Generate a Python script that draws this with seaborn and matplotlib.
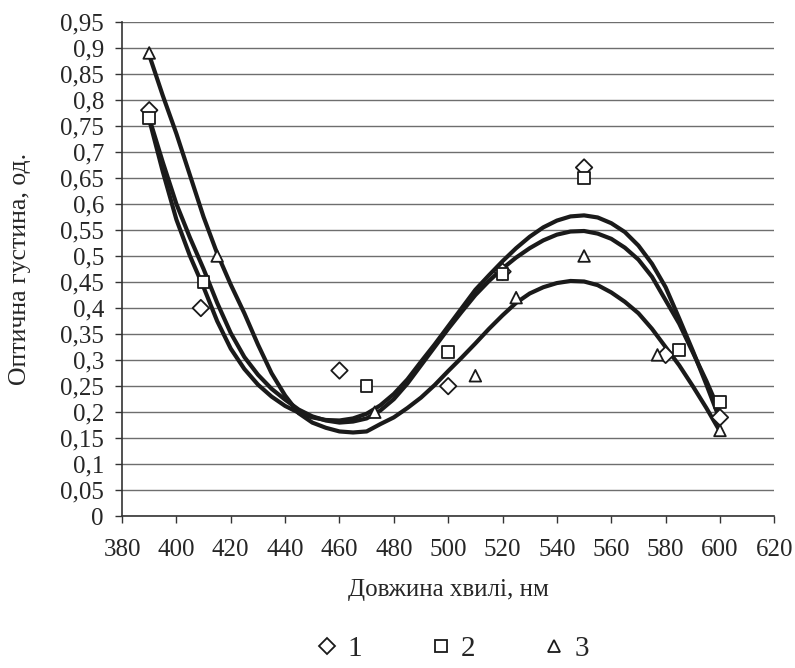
import pandas as pd
import seaborn as sns
import matplotlib.pyplot as plt

WL_1 = [390, 409, 460, 500, 520, 550, 580, 600]
OD_1 = [0.78, 0.40, 0.28, 0.25, 0.47, 0.67, 0.31, 0.19]
WL_2 = [390, 410, 470, 500, 520, 550, 585, 600]
OD_2 = [0.765, 0.45, 0.25, 0.315, 0.465, 0.65, 0.32, 0.22]
WL_3 = [390, 415, 473, 510, 525, 550, 577, 600]
OD_3 = [0.89, 0.50, 0.20, 0.27, 0.42, 0.50, 0.31, 0.165]

# trend curves as drawn in the reference (read every 5 nm)
TREND_WL = [390, 395, 400, 405, 410, 415, 420, 425, 430, 435, 440, 445, 450,
            455, 460, 465, 470, 475, 480, 485, 490, 495, 500, 505, 510, 515,
            520, 525, 530, 535, 540, 545, 550, 555, 560, 565, 570, 575, 580,
            585, 590, 595, 600]
TREND_1 = [0.762, 0.662, 0.57, 0.5, 0.44, 0.375, 0.322, 0.283, 0.253, 0.23,
           0.212, 0.199, 0.19, 0.185, 0.184, 0.188, 0.197, 0.213, 0.235, 0.263,
           0.297, 0.33, 0.365, 0.4, 0.435, 0.463, 0.49, 0.515, 0.537, 0.555,
           0.568, 0.576, 0.578, 0.574, 0.563, 0.546, 0.52, 0.485, 0.44, 0.38,
           0.318, 0.253, 0.185]
TREND_2 = [0.765, 0.68, 0.6, 0.535, 0.475, 0.41, 0.352, 0.306, 0.272, 0.245,
           0.224, 0.205, 0.192, 0.184, 0.18, 0.182, 0.188, 0.203, 0.225, 0.255,
           0.29, 0.325, 0.36, 0.393, 0.425, 0.452, 0.476, 0.497, 0.515, 0.53,
           0.541, 0.547, 0.548, 0.543, 0.533, 0.516, 0.493, 0.46, 0.415, 0.37,
           0.315, 0.26, 0.2]
TREND_3 = [0.886, 0.808, 0.735, 0.655, 0.575, 0.505, 0.445, 0.39, 0.33, 0.275,
           0.232, 0.198, 0.18, 0.17, 0.163, 0.161, 0.163, 0.177, 0.19, 0.208,
           0.228, 0.252, 0.279, 0.305, 0.332, 0.36, 0.386, 0.41, 0.428, 0.44,
           0.448, 0.452, 0.451, 0.444, 0.43, 0.412, 0.39, 0.36, 0.325, 0.29,
           0.25, 0.208, 0.163]

SERIES = ["1", "2", "3"]
MARKERS = {"1": "D", "2": "s", "3": "^"}

points = pd.concat(
    [
        pd.DataFrame({"wl": wl, "od": od, "series": name})
        for name, wl, od in zip(SERIES, [WL_1, WL_2, WL_3], [OD_1, OD_2, OD_3])
    ],
    ignore_index=True,
)
trends = pd.concat(
    [
        pd.DataFrame({"wl": TREND_WL, "od": od, "series": name})
        for name, od in zip(SERIES, [TREND_1, TREND_2, TREND_3])
    ],
    ignore_index=True,
)

sns.set_style("white")
plt.rcParams["font.family"] = ["Liberation Serif", "DejaVu Serif"]

fig = plt.figure(figsize=(7.95, 6.68), dpi=100)
ax = fig.add_axes([0.1535, 0.2271, 0.8205, 0.7404])

sns.lineplot(
    data=trends,
    x="wl",
    y="od",
    units="series",
    estimator=None,
    sort=False,
    color="#1a1a1a",
    lw=3,
    legend=False,
    ax=ax,
)

sns.scatterplot(
    data=points,
    x="wl",
    y="od",
    style="series",
    markers=MARKERS,
    style_order=SERIES,
    color="white",
    edgecolor="#1a1a1a",
    linewidth=1.3,
    s=70,
    zorder=5,
    ax=ax,
)

yt = [0, 0.05, 0.1, 0.15, 0.2, 0.25, 0.3, 0.35, 0.4, 0.45,
      0.5, 0.55, 0.6, 0.65, 0.7, 0.75, 0.8, 0.85, 0.9, 0.95]
ax.set_xlim(380, 620)
ax.set_ylim(0, 0.95)
ax.set_xticks(range(380, 621, 20))
ax.set_yticks(yt)
ax.set_yticklabels([("%g" % v).replace(".", ",") for v in yt])
ax.grid(axis="y", color="#6e6e6e", lw=1)
ax.set_axisbelow(True)
for side in ["top", "right"]:
    ax.spines[side].set_visible(False)
for side in ["left", "bottom"]:
    ax.spines[side].set_color("#333333")
    ax.spines[side].set_linewidth(1.2)
ax.tick_params(axis="both", direction="out", length=5, width=1, color="#333333",
               labelsize=18, bottom=True, left=True)
ax.tick_params(axis="x", pad=11)
ax.tick_params(axis="y", pad=8)

ax.set_xlabel("Довжина хвилі, нм", fontsize=18)
ax.set_ylabel("Оптична густина, од.", fontsize=18.5)
ax.xaxis.set_label_coords(0.5, -0.127)
ax.yaxis.set_label_coords(-0.1395, 0.5)

handles, labels = ax.get_legend_handles_labels()
ax.legend(
    handles,
    labels,
    loc="center",
    bbox_to_anchor=(0.504, -0.268),
    ncol=3,
    frameon=False,
    fontsize=21,
    handlelength=1.0,
    handletextpad=0.2,
    columnspacing=2.2,
    borderpad=0,
)

fig.savefig("out.png", dpi=100)
